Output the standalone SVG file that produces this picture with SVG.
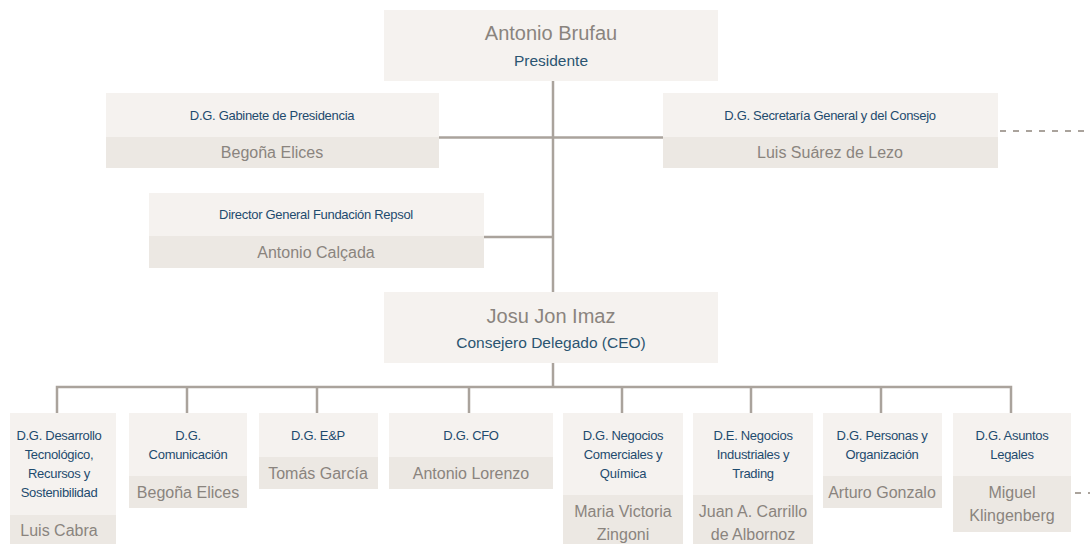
<svg xmlns="http://www.w3.org/2000/svg" width="1090" height="544" viewBox="0 0 1090 544">
<style>
.up{fill:#f5f2ef}
.lo{fill:#ece8e3}
.ln{stroke:#aaa39c;stroke-width:2.5;fill:none}
.dash{stroke:#aaa39c;stroke-width:2;fill:none;stroke-dasharray:6 7}
.big{font-family:"Liberation Sans",Arial,sans-serif;font-size:20px;fill:#8a847e;text-anchor:middle;dominant-baseline:central}
.role{font-family:"Liberation Sans",Arial,sans-serif;font-size:15.5px;fill:#2b5571;text-anchor:middle;dominant-baseline:central}
.t{font-family:"Liberation Sans Narrow","Liberation Sans",Arial,sans-serif;font-size:13px;fill:#1e4b6e;text-anchor:middle;dominant-baseline:central;letter-spacing:-0.3px}
.n{font-family:"Liberation Sans",Arial,sans-serif;font-size:16px;fill:#8a847e;text-anchor:middle;dominant-baseline:central}
</style>
<g id="connectors">
<path class="ln" d="M553 81V292"/>
<path class="ln" d="M439 137.5H553"/>
<path class="ln" d="M553 137.5H663"/>
<path class="ln" d="M484 237H553"/>
<path class="ln" d="M553 363V387"/>
<path class="ln" d="M57 413V387H1011V413"/>
<path class="ln" d="M187 387V413M317 387V413M469 387V413M622 387V413M751 387V413M881 387V413"/>
<path class="dash" d="M1000 131H1090"/>
<path class="dash" d="M1075 493H1090"/>
</g>
<g id="presidente">
<rect class="up" x="384" y="10" width="334" height="71"/>
<text class="big" x="551" y="33">Antonio Brufau</text>
<text class="role" x="551" y="60">Presidente</text>
</g>
<g id="gabinete">
<rect class="up" x="106" y="93" width="333" height="44"/>
<rect class="lo" x="106" y="137" width="333" height="31"/>
<text class="t" x="272" y="115">D.G. Gabinete de Presidencia</text>
<text class="n" x="272" y="152">Begoña Elices</text>
</g>
<g id="secretaria">
<rect class="up" x="663" y="93" width="335" height="44"/>
<rect class="lo" x="663" y="137" width="335" height="31"/>
<text class="t" x="830" y="115">D.G. Secretaría General y del Consejo</text>
<text class="n" x="830" y="152">Luis Suárez de Lezo</text>
</g>
<g id="fundacion">
<rect class="up" x="149" y="193" width="335" height="43"/>
<rect class="lo" x="149" y="236" width="335" height="32"/>
<text class="t" x="316" y="214">Director General Fundación Repsol</text>
<text class="n" x="316" y="252">Antonio Calçada</text>
</g>
<g id="ceo">
<rect class="up" x="384" y="292" width="334" height="71"/>
<text class="big" x="551" y="316">Josu Jon Imaz</text>
<text class="role" x="551" y="342">Consejero Delegado (CEO)</text>
</g>
<g id="desarrollo">
<rect class="up" x="10" y="413" width="106" height="102"/>
<rect class="lo" x="10" y="515" width="106" height="29"/>
<text class="t" x="59" y="435">D.G. Desarrollo</text>
<text class="t" x="59" y="454">Tecnológico,</text>
<text class="t" x="59" y="473">Recursos y</text>
<text class="t" x="59" y="492">Sostenibilidad</text>
<text class="n" x="59" y="530">Luis Cabra</text>
</g>
<g id="comunicacion">
<rect class="up" x="129" y="413" width="118" height="63"/>
<rect class="lo" x="129" y="476" width="118" height="32"/>
<text class="t" x="188" y="435">D.G.</text>
<text class="t" x="188" y="454">Comunicación</text>
<text class="n" x="188" y="492">Begoña Elices</text>
</g>
<g id="ep">
<rect class="up" x="259" y="413" width="119" height="44"/>
<rect class="lo" x="259" y="457" width="119" height="32"/>
<text class="t" x="318" y="435">D.G. E&amp;P</text>
<text class="n" x="318" y="473">Tomás García</text>
</g>
<g id="cfo">
<rect class="up" x="389" y="413" width="164" height="44"/>
<rect class="lo" x="389" y="457" width="164" height="32"/>
<text class="t" x="471" y="435">D.G. CFO</text>
<text class="n" x="471" y="473">Antonio Lorenzo</text>
</g>
<g id="comerciales">
<rect class="up" x="563" y="413" width="120" height="82"/>
<rect class="lo" x="563" y="495" width="120" height="49"/>
<text class="t" x="623" y="435">D.G. Negocios</text>
<text class="t" x="623" y="454">Comerciales y</text>
<text class="t" x="623" y="473">Química</text>
<text class="n" x="623" y="511">Maria Victoria</text>
<text class="n" x="623" y="534">Zingoni</text>
</g>
<g id="industriales">
<rect class="up" x="693" y="413" width="120" height="82"/>
<rect class="lo" x="693" y="495" width="120" height="49"/>
<text class="t" x="753" y="435">D.E. Negocios</text>
<text class="t" x="753" y="454">Industriales y</text>
<text class="t" x="753" y="473">Trading</text>
<text class="n" x="753" y="511">Juan A. Carrillo</text>
<text class="n" x="753" y="534">de Albornoz</text>
</g>
<g id="personas">
<rect class="up" x="823" y="413" width="119" height="63"/>
<rect class="lo" x="823" y="476" width="119" height="32"/>
<text class="t" x="882" y="435">D.G. Personas y</text>
<text class="t" x="882" y="454">Organización</text>
<text class="n" x="882" y="492">Arturo Gonzalo</text>
</g>
<g id="legales">
<rect class="up" x="953" y="413" width="118" height="63"/>
<rect class="lo" x="953" y="476" width="118" height="56"/>
<text class="t" x="1012" y="435">D.G. Asuntos</text>
<text class="t" x="1012" y="454">Legales</text>
<text class="n" x="1012" y="492">Miguel</text>
<text class="n" x="1012" y="515">Klingenberg</text>
</g>
</svg>
